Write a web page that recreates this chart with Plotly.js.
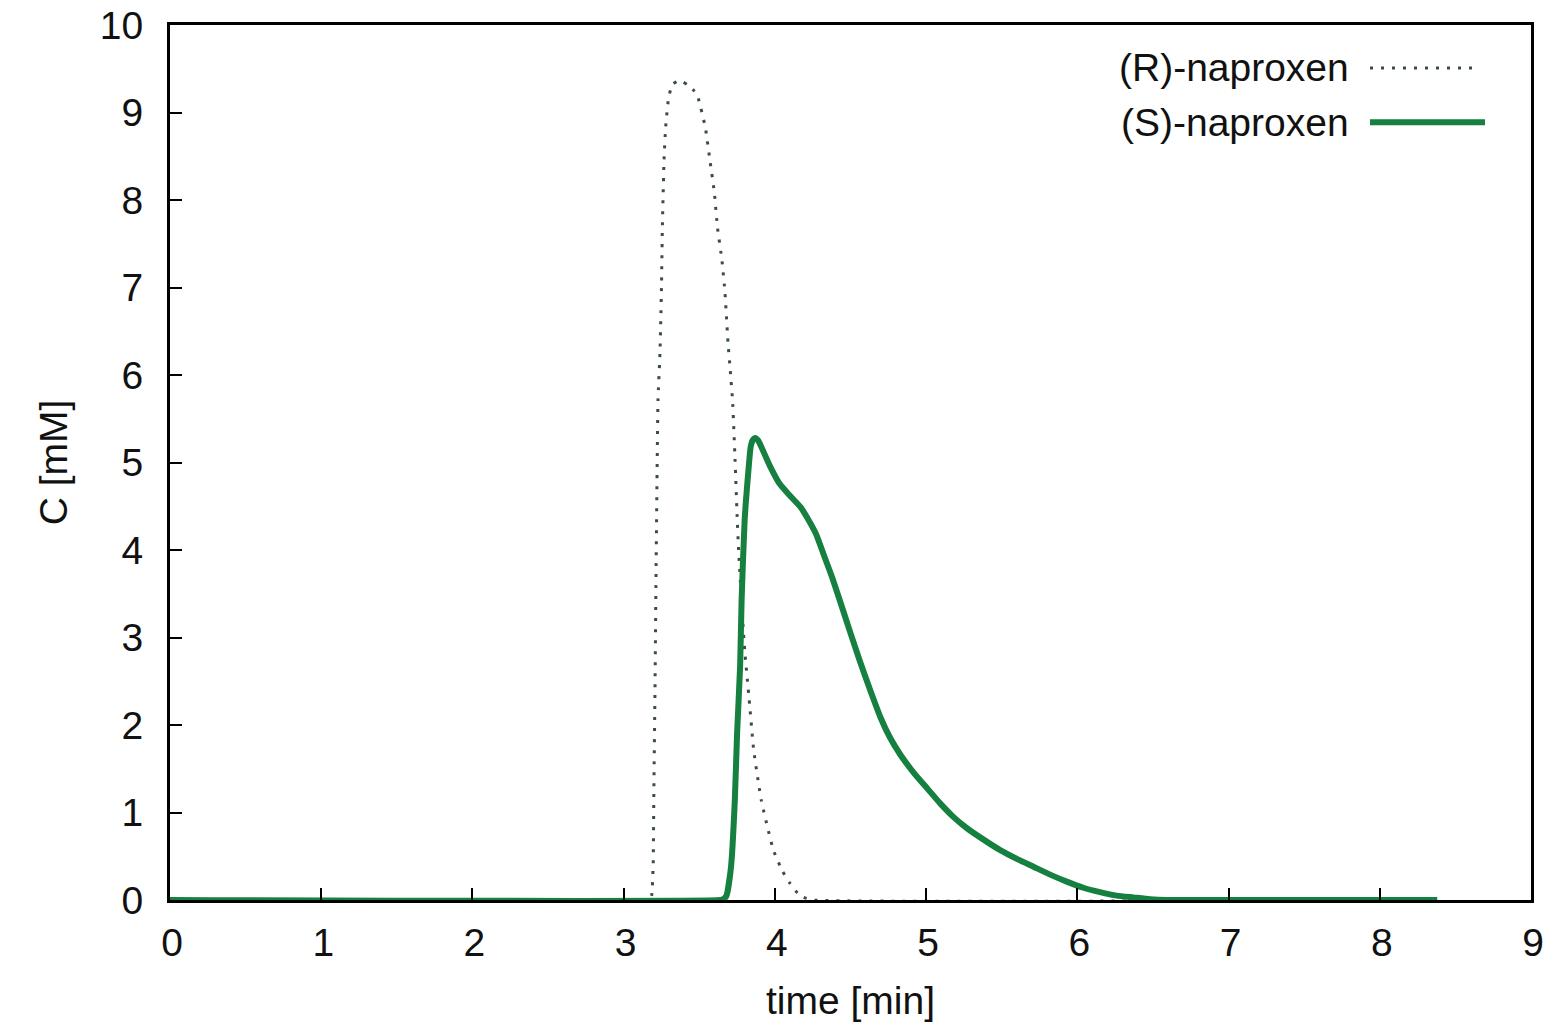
<!DOCTYPE html>
<html>
<head>
<meta charset="utf-8">
<script src="https://cdn.plot.ly/plotly-3.0.1.min.js"></script>
<style>
  html, body { margin: 0; padding: 0; background: #ffffff; }
  #chart { width: 1545px; height: 1030px; }
</style>
</head>
<body>
<div id="chart"></div>
<script>
// ---- data ----
var seriesNames = ['(R)-naproxen', '(S)-naproxen'];

var timeR = [0, 3.17, 3.185, 3.195, 3.2, 3.207, 3.215, 3.227, 3.24, 3.25, 3.256, 3.267, 3.278, 3.295,
  3.31, 3.33, 3.36, 3.39, 3.42, 3.46, 3.49, 3.54, 3.57, 3.60, 3.62, 3.65, 3.67, 3.69, 3.705, 3.72,
  3.735, 3.75, 3.76, 3.78, 3.80, 3.83, 3.86, 3.91, 3.99, 4.05, 4.10, 4.15, 4.19, 4.25, 8.38];
var concR = [0, 0, 0.05, 0.4, 1.3, 2.37, 3.9, 5.71, 6.25, 7.0, 7.7, 8.46, 8.84, 9.14,
  9.26, 9.33, 9.36, 9.35, 9.32, 9.26, 9.18, 8.83, 8.46, 8.08, 7.69, 7.31, 6.94, 6.37, 6.05, 5.71,
  5.1, 4.4, 4.0, 3.4, 2.86, 2.29, 1.71, 1.14, 0.57, 0.33, 0.19, 0.08, 0.03, 0, 0];

var timeS = [0, 3.64, 3.66, 3.68, 3.71, 3.735, 3.75, 3.77, 3.78, 3.80, 3.825, 3.84, 3.855, 3.87,
  3.89, 3.91, 3.97, 4.03, 4.10, 4.17, 4.21, 4.27, 4.32, 4.38, 4.43, 4.50, 4.56, 4.63, 4.70, 4.76,
  4.83, 4.92, 5.01, 5.09, 5.18, 5.27, 5.38, 5.49, 5.60, 5.71, 5.82, 5.93, 6.04, 6.15, 6.26, 6.37,
  6.48, 6.59, 8.38];
var concS = [0, 0, 0.01, 0.05, 0.38, 1.14, 1.9, 2.67, 3.43, 4.34, 4.91, 5.18, 5.26, 5.28,
  5.25, 5.18, 4.95, 4.76, 4.62, 4.49, 4.38, 4.19, 3.96, 3.68, 3.42, 3.05, 2.74, 2.40, 2.08, 1.86,
  1.66, 1.45, 1.27, 1.11, 0.95, 0.82, 0.69, 0.57, 0.47, 0.38, 0.29, 0.21, 0.14, 0.09, 0.05, 0.03,
  0.01, 0, 0];

var xTicks = [0, 1, 2, 3, 4, 5, 6, 7, 8, 9];
var yTicks = [0, 1, 2, 3, 4, 5, 6, 7, 8, 9, 10];
var xTitle = 'time [min]';
var yTitle = 'C [mM]';

// ---- styles ----
var FONT = 'Liberation Sans, Arial, Helvetica, sans-serif';
var FS = 39;
var colorR = '#3c4c4a';
var colorS = '#15803f';
var dashR = '3px,8px';

var traces = [
  { x: timeR, y: concR, name: seriesNames[0], type: 'scatter', mode: 'lines',
    line: { color: colorR, width: 3, dash: dashR, shape: 'spline', smoothing: 0.4 }, showlegend: false },
  { x: timeS, y: concS, name: seriesNames[1], type: 'scatter', mode: 'lines',
    line: { color: colorS, width: 6, shape: 'spline', smoothing: 0.5 }, showlegend: false }
];

var axisCommon = {
  showgrid: false, zeroline: false, showline: true, mirror: true,
  linecolor: '#000', linewidth: 3,
  ticks: 'inside', ticklen: 12, tickwidth: 2, tickcolor: '#000',
  tickfont: { family: FONT, size: FS, color: '#111' },
  tickmode: 'array', ticklabeloverflow: 'allow'
};

var layout = {
  width: 1545, height: 1030,
  margin: { l: 170, r: 14, t: 25, b: 130 },
  paper_bgcolor: '#fff', plot_bgcolor: '#fff',
  font: { family: FONT, size: FS, color: '#111' },
  showlegend: false,
  xaxis: Object.assign({}, axisCommon, {
    range: [0, 9], tickvals: xTicks, ticktext: xTicks.map(String),
    ticklabelstandoff: 6, ticklabelshift: 2,
    title: { text: xTitle, font: { family: FONT, size: FS, color: '#111' }, standoff: 24 }
  }),
  yaxis: Object.assign({}, axisCommon, {
    range: [0, 10], tickvals: yTicks, ticktext: yTicks.map(String),
    ticklabelstandoff: 16,
    title: { text: yTitle, font: { family: FONT, size: FS, color: '#111' }, standoff: 21 }
  }),
  annotations: [
    { xref: 'paper', yref: 'paper', x: 0.8675, y: 0.9509, xanchor: 'right', yanchor: 'middle',
      text: seriesNames[0], showarrow: false, font: { family: FONT, size: FS, color: '#111' } },
    { xref: 'paper', yref: 'paper', x: 0.8675, y: 0.889, xanchor: 'right', yanchor: 'middle',
      text: seriesNames[1], showarrow: false, font: { family: FONT, size: FS, color: '#111' } }
  ],
  shapes: [
    { type: 'line', xref: 'paper', yref: 'paper', x0: 0.8817, x1: 0.961, y0: 0.9509, y1: 0.9509,
      line: { color: colorR, width: 3, dash: dashR } },
    { type: 'line', xref: 'paper', yref: 'paper', x0: 0.8817, x1: 0.9662, y0: 0.889, y1: 0.889,
      line: { color: colorS, width: 6 } }
  ]
};

Plotly.newPlot('chart', traces, layout, { displayModeBar: false, staticPlot: true });
</script>
</body>
</html>
